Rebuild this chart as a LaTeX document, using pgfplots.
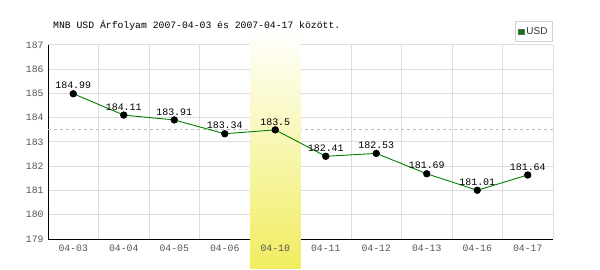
\documentclass[border=0pt]{standalone}
\usepackage{pgfplots}
\pgfplotsset{compat=1.18}
\usepackage{fontspec}
\setmainfont{Liberation Sans}
\newfontfamily\monofont{Liberation Mono}
\definecolor{tickgray}{RGB}{85,85,85}
\definecolor{gridgray}{RGB}{221,221,221}
\definecolor{bandyellow}{RGB}{240,237,96}
\definecolor{linegreen}{RGB}{0,128,0}
\definecolor{avggray}{RGB}{190,190,190}
\pgfplotsset{
  mygeom/.style={
    at={(48bp,31bp)}, anchor=south west,
    scale only axis, width=505bp, height=194bp,
    xmin=-0.5, xmax=9.5, ymin=179, ymax=187,
    major tick length=0pt, minor tick length=0pt,
    /pgf/number format/assume math mode=true,
    ticklabel style={font=\monofont\fontsize{9.8}{11}\selectfont, text=tickgray},
    xticklabel style={yshift=-2bp},
    yticklabel style={xshift=-1bp},
  }
}
\begin{document}
\begin{tikzpicture}
\path[use as bounding box] (0bp,0bp) rectangle (600bp,270bp);
\node[anchor=base west, font=\monofont\fontsize{9.8}{11}\selectfont, inner sep=0pt] at (53bp,241bp) {MNB USD Árfolyam 2007-04-03 és 2007-04-17 között.};
\begin{axis}[
  mygeom,
  clip=false,
  axis x line*=bottom, axis y line*=left,
  axis line style={black, line width=1bp, -},
  xtick={0,...,9},
  xticklabels={04-03,04-04,04-05,04-06,,04-11,04-12,04-13,04-16,04-17},
  minor xtick={-0.5,0.5,...,9.5},
  xminorgrids=true, xmajorgrids=false,
  ytick={179,...,187}, ymajorgrids=true,
  grid style={draw=gridgray, line width=1bp},
  minor grid style={draw=gridgray, line width=1bp},
  legend entries={USD},
  legend style={at={(rel axis cs:1,1)}, anchor=south east, yshift=2.5bp,
    draw={rgb,255:red,210;green,210;blue,210}, line width=1bp,
    font=\fontsize{10}{11}\selectfont, inner xsep=3bp, inner ysep=5bp,
    nodes={inner xsep=2bp, inner ysep=1bp, text=black!80}},
  legend image code/.code={\fill[draw=black!60, fill=linegreen, line width=0.5bp] (0bp,-2.8bp) rectangle (5.5bp,2.8bp);},
]
\addlegendimage{linegreen}
\addplot[avggray, dashed, line width=0.8bp, forget plot] coordinates {(-0.5,183.5) (9.5,183.5)};
\shade[top color=white, bottom color=bandyellow] (axis cs:3.5,177.8) rectangle (axis cs:4.5,187.62);
\addplot[linegreen, line width=0.9bp, mark=*, mark options={black, fill=black}, mark size=3.2bp,
  forget plot,
  nodes near coords, point meta=explicit symbolic,
  every node near coord/.append style={font=\monofont\fontsize{10}{11}\selectfont, text=black, anchor=south, yshift=1bp}]
  table[meta=label] {
x y label
0 184.99 184.99
1 184.11 184.11
2 183.91 183.91
3 183.34 183.34
4 183.5 183.5
5 182.41 182.41
6 182.53 182.53
7 181.69 181.69
8 181.01 181.01
9 181.64 181.64
};
\end{axis}
\begin{axis}[
  mygeom,
  axis x line*=bottom, axis y line=none,
  axis line style={draw=none},
  xtick={4}, xticklabels={04-10}, ytick=\empty,
]
\end{axis}
\end{tikzpicture}
\end{document}
